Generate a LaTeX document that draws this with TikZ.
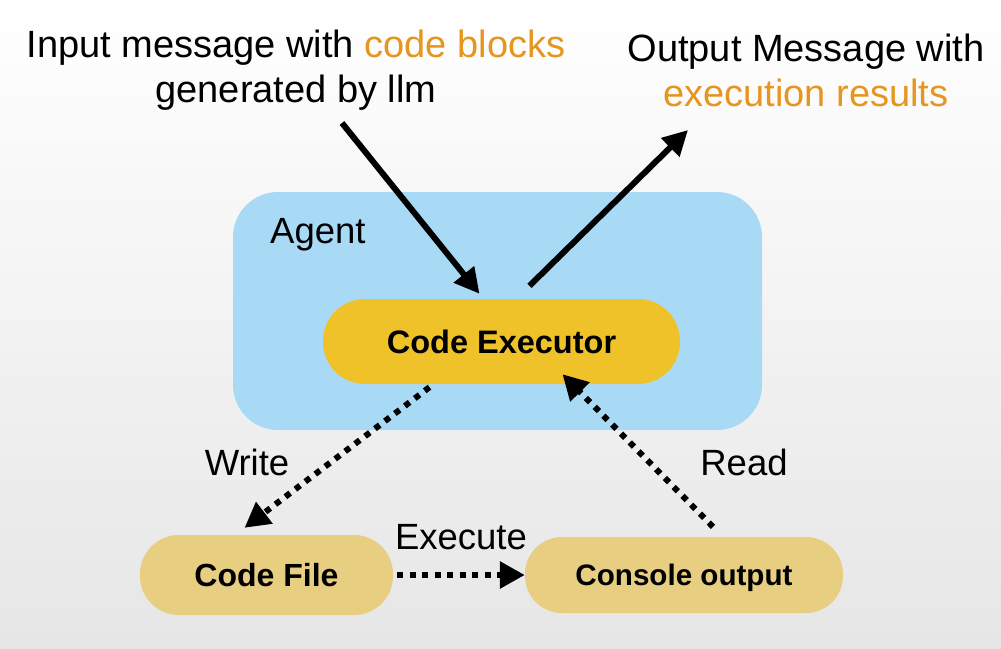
\documentclass[tikz,border=0pt]{standalone}
\usepackage{fontspec}
\setmainfont{Liberation Sans}
\usetikzlibrary{arrows.meta,calc}
\definecolor{agentblue}{RGB}{168,218,246}
\definecolor{execyellow}{RGB}{240,194,42}
\definecolor{filekhaki}{RGB}{232,206,128}
\definecolor{orangetxt}{RGB}{230,149,30}
\definecolor{bgbottom}{RGB}{230,230,230}
\begin{document}
\begin{tikzpicture}[x=1pt,y=-1pt,
  pill/.style={inner sep=0pt, font=\fontsize{32.5}{38}\selectfont\bfseries},
  lbl/.style={inner sep=0pt, font=\fontsize{36.5}{44}\selectfont},
  ttl/.style={inner sep=0pt, align=center, font=\fontsize{38}{45}\selectfont},
  solidarrow/.style={line width=6pt, -{Triangle[length=25pt,width=25pt]}},
  dotarrow/.style={line width=6pt, dash pattern=on 6pt off 6.5pt, -{Triangle[length=25pt,width=26pt]}}
]
\useasboundingbox (0,0) rectangle (1001,648);
\shade[top color=white, middle color=white!97!black, bottom color=bgbottom] (0,0) rectangle (1001,648);

\node[fill=agentblue, rounded corners=45pt, minimum width=529pt, minimum height=238pt, inner sep=0pt] (agent) at (497.5,311) {};
\node[lbl, anchor=west] (agentl) at (270,235) {Agent};

\node[pill, fill=execyellow, rounded corners=42pt, minimum width=357pt, minimum height=85pt] (exec) at (501.5,341.5) {Code Executor};
\node[pill, fill=filekhaki, rounded corners=39pt, minimum width=253pt, minimum height=80pt, font=\fontsize{32}{38}\selectfont\bfseries] (file) at (266.5,575) {Code File};
\node[pill, fill=filekhaki, rounded corners=37pt, minimum width=318pt, minimum height=76pt, text depth=0pt, font=\fontsize{29.6}{34}\selectfont\bfseries] (console) at (684,575) {Console output};

\node[ttl] (inmsg) at (296,70) {Input message with \textcolor{orangetxt}{code blocks}\\generated by llm};
\node[ttl] (outmsg) at (806,70) {Output Message with\\\textcolor{orangetxt}{execution results}};

\node[lbl] (writel) at (247,462) {Write};
\node[lbl] (readl) at (744,462) {Read};
\node[lbl] (execl) at (461,537) {Execute};

\coordinate (instart) at (342,123);
\coordinate (outend) at (688,130);

\draw[solidarrow] (instart) -- ([xshift=-22pt,yshift=5pt]exec.north);
\draw[solidarrow] ([xshift=28pt,yshift=13pt]exec.north) -- (outend);
\draw[dotarrow] ([xshift=-72pt,yshift=-3pt]exec.south) -- ([xshift=-22pt,yshift=7pt]file.north);
\draw[dotarrow] ([xshift=29pt,yshift=10pt]console.north) -- ([xshift=61pt,yshift=10pt]exec.south);
\draw[dotarrow] ([xshift=4pt]file.east) -- (console.west);
\end{tikzpicture}
\end{document}
